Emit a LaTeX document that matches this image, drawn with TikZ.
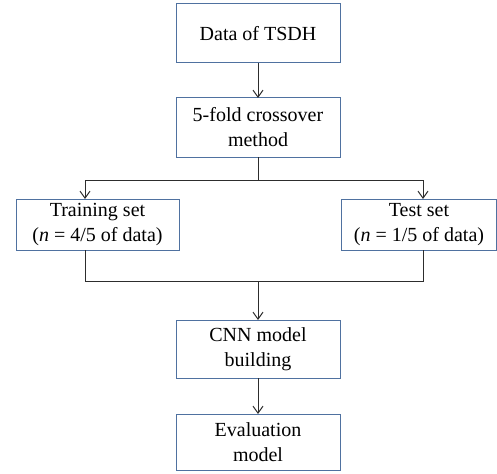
\documentclass[tikz,border=0pt]{standalone}
\usepackage{fontspec}
\setmainfont{Liberation Serif}
\usetikzlibrary{positioning,arrows.meta}
\definecolor{boxblue}{RGB}{79,113,160}
\definecolor{linegray}{RGB}{45,45,45}

\begin{document}
\begin{tikzpicture}[
  x=1pt, y=1pt,
  font=\rmfamily\fontsize{20}{25}\selectfont,
  stage/.style={draw=boxblue, line width=1pt, align=center, minimum width=164pt, minimum height=58pt, inner sep=2pt, outer sep=0pt},
  subset/.style={stage, minimum height=51pt},
  link/.style={draw=linegray, line width=1pt},
  flow/.style={link, -{Straight Barb[length=7pt,width=10pt]}}
]
  \useasboundingbox (0,0) rectangle (497,-473);

  \node (data) [stage, minimum height=59pt] at (258,-33.5) {Data of TSDH};
  \node (split) [stage, minimum height=59pt, below=35pt of data] {5-fold crossover\\method};

  \node (train) [subset, minimum width=163pt, below=42pt of split, xshift=-160.5pt] {Training set\\(\textit{n} = 4/5 of data)};
  \node (test) [subset, minimum width=155pt, below=42pt of split, xshift=161pt] {Test set\\(\textit{n} = 1/5 of data)};

  \coordinate (mid) at (split.south |- train.south);
  \node (cnn) [stage, below=70pt of mid] {CNN model\\building};
  \node (eval) [stage, minimum height=56pt, below=36pt of cnn] {Evaluation\\model};

  % split into the two subsets
  \coordinate (forkl) at (85,-180);
  \coordinate (forkr) at (423,-180);
  \draw[flow] (data) -- (split);
  \draw[link] (split.south) -- (split.south |- forkl) (forkl) -- (forkr);
  \draw[flow] (forkl) -- (forkl |- train.north);
  \draw[flow] (forkr) -- (forkr |- test.north);

  % join back for the model
  \coordinate (joinl) at (85,-281);
  \coordinate (joinr) at (423,-281);
  \draw[link] (joinl |- train.south) -- (joinl) -- (joinr) -- (joinr |- test.south);
  \draw[flow] (cnn.north |- joinl) -- (cnn.north);
  \draw[flow] (cnn) -- (eval);
\end{tikzpicture}
\end{document}
